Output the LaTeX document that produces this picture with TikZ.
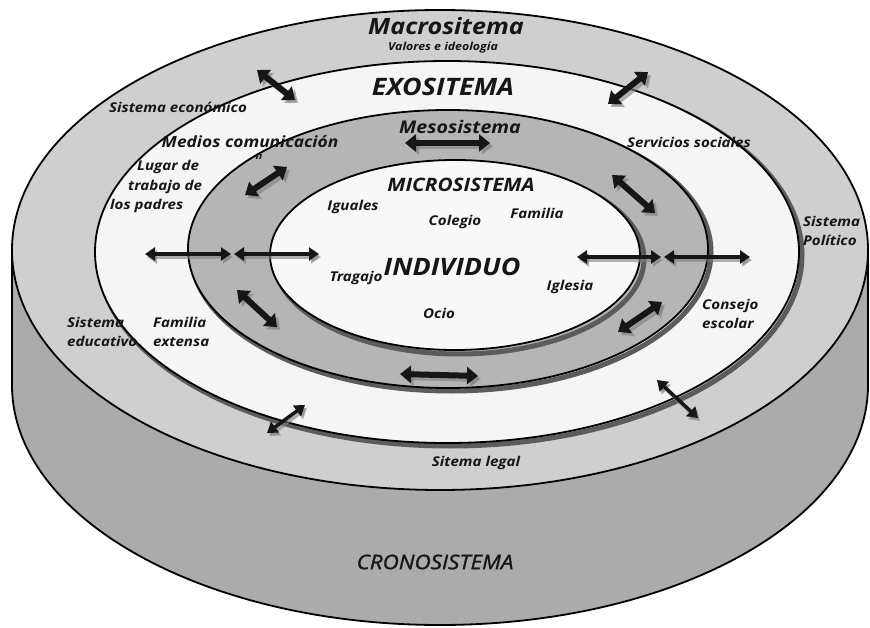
\documentclass[tikz,border=0pt]{standalone}
\usepackage{fontspec}
\setmainfont[FakeStretch=1.12]{Open Sans}
\newfontfamily\medfont[FakeStretch=1.12, FakeBold=1.3]{Open Sans}
\usetikzlibrary{positioning,arrows.meta}
\definecolor{macrogray}{HTML}{CFCFCF}
\definecolor{sidegray}{HTML}{ABABAB}
\definecolor{exowhite}{HTML}{F5F5F5}
\definecolor{mesogray}{HTML}{B5B5B5}
\definecolor{microwhite}{HTML}{F8F8F8}
\definecolor{shade}{HTML}{5C5C5C}
\definecolor{ink}{HTML}{161616}
\tikzset{
	ring base/.style={draw=black, line width=1.8pt},
	ring shade/.style={draw=shade, line width=5pt},
	label base/.style={inner sep=0pt, text=ink, align=left, font=\bfseries\itshape\fontsize{13.5}{18.5}\selectfont},
	title base/.style={inner sep=0pt, text=ink, font=\bfseries\itshape\fontsize{24}{26}\selectfont},
	link/.style={{Triangle[width=17pt,length=11pt]}-{Triangle[width=17pt,length=11pt]}, line width=6pt, draw=ink},
	link thin/.style={{Triangle[width=13pt,length=10pt]}-{Triangle[width=13pt,length=10pt]}, line width=3.5pt, draw=ink},
}

\begin{document}
\begin{tikzpicture}[x=1pt,y=-1pt]
	\useasboundingbox (0,0) rectangle (870,628);

	% cylinder body
	\fill[sidegray] (12,250) rectangle (868,385);
	\fill[sidegray] (440,385) ellipse [x radius=428, y radius=240];
	\draw[ring base] (12,250) -- (12,385) arc [start angle=180, end angle=0, x radius=428, y radius=240] -- (868,250);

	% rings, outside in
	\draw[ring base, fill=macrogray] (440,250) ellipse [x radius=428, y radius=240];
	\draw[ring shade] (450,255) ellipse [x radius=352, y radius=191];
	\draw[ring base, fill=exowhite] (447,252) ellipse [x radius=352, y radius=191];
	\draw[ring shade] (451,252) ellipse [x radius=260, y radius=139];
	\draw[ring base, fill=mesogray] (448,249) ellipse [x radius=260, y radius=139];
	\draw[ring shade] (459,259) ellipse [x radius=185, y radius=95];
	\draw[ring base, fill=microwhite] (455,255) ellipse [x radius=185, y radius=95];

	% arrows
	\foreach \ax/\ay/\bx/\by in {257/70/295/100, 608/104/648/72, 405/143/490/143, 245/195/287/167,
		612/175/655/213, 237/290/277/327, 618/332/662/302, 400/374/478/376} {
		\draw[link, draw=gray, opacity=0.6] (\ax+3,\ay+3) -- (\bx+3,\by+3);
		\draw[link] (\ax,\ay) -- (\bx,\by);
	}
	\foreach \ax/\ay/\bx/\by in {145/254/231/254, 234/254/319/254, 577/257/661/257, 664/257/750/257,
		267/433/305/405, 657/380/698/418} {
		\draw[link thin, draw=gray, opacity=0.6] (\ax+2,\ay+3) -- (\bx+2,\by+3);
		\draw[link thin] (\ax,\ay) -- (\bx,\by);
	}

	% titles
	\node[title base, anchor=base, font=\bfseries\itshape\fontsize{22.5}{24}\selectfont] (macro) at (446,35) {Macrositema};
	\node[label base, anchor=base, font=\bfseries\itshape\fontsize{11}{12}\selectfont] (valores) at (443,51) {Valores e ideología};
	\node[title base] (exo) at (443,87) {EXOSITEMA};
	\node[label base, font=\bfseries\itshape\fontsize{17.5}{20}\selectfont] (meso) at (460,127) {Mesosistema};
	\node[title base, font=\bfseries\itshape\fontsize{18.5}{20}\selectfont] (micro) at (461,185) {MICROSISTEMA};
	\node[title base, font=\bfseries\itshape\fontsize{24}{26}\selectfont] (indiv) at (452,267) {INDIVIDUO};
	\node[title base, font=\medfont\itshape\fontsize{20}{22}\selectfont] (crono) at (435,562) {CRONOSISTEMA};

	% microsistema
	\node[label base] (iguales) at (353,207) {Iguales};
	\node[label base] (colegio) at (455,222) {Colegio};
	\node[label base] (familia) at (537,213) {Familia};
	\node[label base] (tragajo) at (356,278) {Tragajo};
	\node[label base] (iglesia) at (570,287) {Iglesia};
	\node[label base] (ocio) at (439,313) {Ocio};

	% exosistema
	\node[label base] (economico) at (178,107) {Sistema económico};
	\node[label base, font=\bfseries\itshape\fontsize{15.5}{16}\selectfont] (medios) at (250,142) {Medios comunicación};
	\node[label base, font=\bfseries\itshape\fontsize{10}{12}\selectfont] (medios n) at (259,157) {n};
	\node[label base, anchor=west] (lugar) at (137,167) {Lugar de};
	\node[label base, anchor=west] (trabajo) at (128,187) {trabajo de};
	\node[label base, anchor=west] (padres) at (110,206) {los padres};
	\node[label base] (servicios) at (689,142) {Servicios sociales};
	\node[label base, anchor=west] (consejo) at (702,314) {Consejo\\escolar};
	\node[label base, anchor=west] (extensa) at (153,332) {Familia\\extensa};

	% macrosistema
	\node[label base, anchor=west] (politico) at (803,231) {Sistema\\Político};
	\node[label base, anchor=west] (educativo) at (67,332) {Sistema\\educativo};
	\node[label base] (legal) at (476,463) {Sitema legal};
\end{tikzpicture}
\end{document}
